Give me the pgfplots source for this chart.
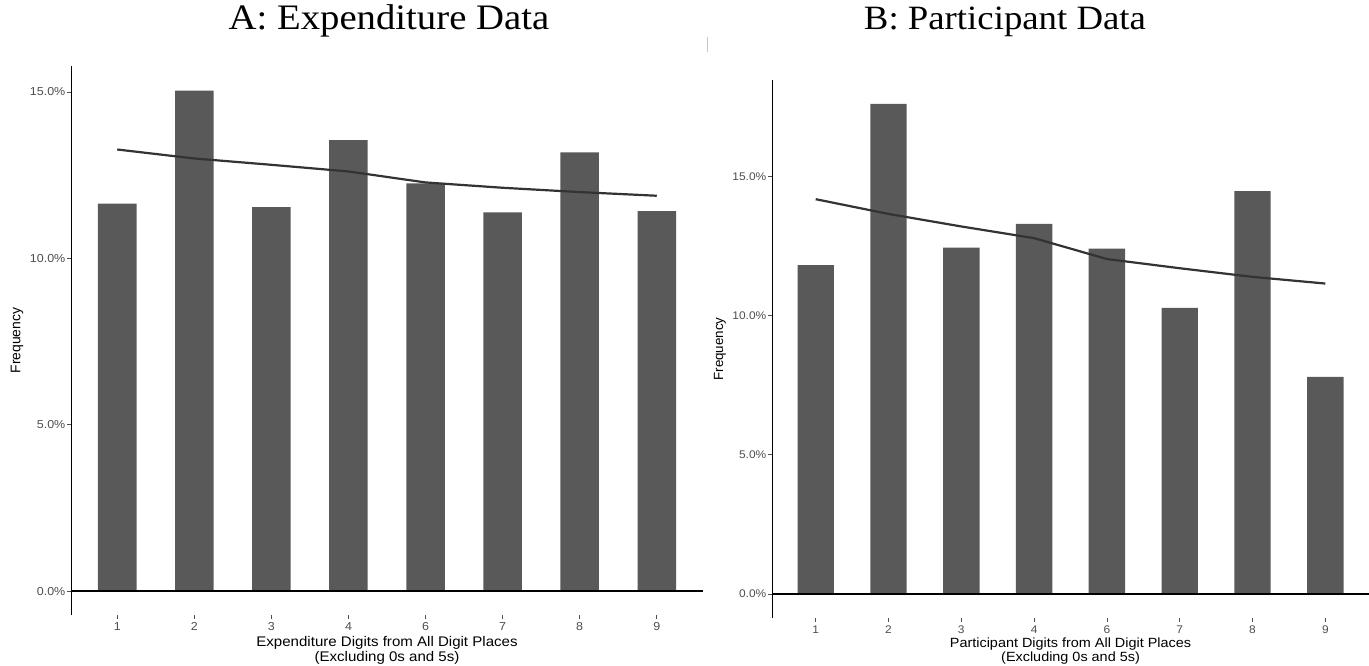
\documentclass[border=0pt]{standalone}
\usepackage{pgfplots}
\usepackage{pgfplotstable}
\pgfplotsset{compat=1.18}
\usepackage{fontspec}
\setmainfont{Liberation Sans}[FakeStretch=1.08]
\newfontfamily\ylabfont{Liberation Sans}
\newfontfamily\titlefont{Liberation Serif}[FakeStretch=1.08]
\definecolor{barcol}{HTML}{595959}
\definecolor{linecol}{HTML}{333333}
\definecolor{ticklab}{HTML}{4D4D4D}

\pgfplotstableread{
x bar line
0 11.64 13.27
1 15.04 13.00
2 11.54 12.81
3 13.55 12.61
4 12.25 12.28
5 11.38 12.12
6 13.18 11.99
7 11.42 11.88
}\expdata

\pgfplotstableread{
x bar line
0 11.81 14.18
1 17.60 13.65
2 12.44 13.20
3 13.29 12.78
4 12.40 12.03
5 10.28 11.70
6 14.47 11.39
7 7.80 11.15
}\partdata

\pgfplotsset{
  digitstyle/.style={
    scale only axis,
    axis x line*=bottom,
    axis y line*=left,
    x axis line style={draw=none},
    y axis line style={black, line width=0.9bp},
    xmin=-0.6, xmax=7.6,
    xtick={0,...,7},
    xticklabels={1,2,3,4,6,7,8,9},
    ytick={0,5,10,15},
    yticklabels={0.0\%,5.0\%,10.0\%,15.0\%},
    tick align=outside,
    major tick length=4bp,
    tick style={color=ticklab, line width=0.7bp},
    ticklabel style={text=ticklab},
    yticklabel style={inner sep=1.5bp},
    xticklabel style={inner sep=2bp, yshift=-1.5bp},
    xlabel style={align=center, at={(axis description cs:0.5,0)}, anchor=north},
    ylabel={Frequency},
    ylabel style={at={(axis description cs:0,0.5)}, anchor=center},
  }
}

\begin{document}
\begin{tikzpicture}[x=1bp,y=1bp]
\useasboundingbox (0,0) rectangle (1369,666);

\node[font=\titlefont\fontsize{36}{40}\selectfont, anchor=base] at (389,636) {A: Expenditure Data};
\node[font=\titlefont\fontsize{34.2}{38}\selectfont, anchor=base] at (1005,636) {B: Participant Data};
\draw[gray!45, line width=0.8bp] (707.5,629) -- (707.5,614);

\begin{axis}[digitstyle,
  at={(71bp,51bp)}, anchor=south west,
  width=632bp, height=549bp,
  ymin=-0.72, ymax=15.78,
  ticklabel style={font=\fontsize{11.6}{12}\selectfont},
  xlabel={Expenditure Digits from All Digit Places\\(Excluding 0s and 5s)},
  xlabel style={font=\fontsize{14}{14.5}\selectfont, yshift=-18bp},
  ylabel style={font=\ylabfont\fontsize{14}{14.5}\selectfont, yshift=54bp},
]
\addplot[ybar, bar width=0.5, fill=barcol, draw=none] table[x=x, y=bar] {\expdata};
\addplot[black, line width=1.3bp] coordinates {(-0.6,0) (7.6,0)};
\addplot[linecol, line width=2.2bp, mark=none] table[x=x, y=line] {\expdata};
\end{axis}

\begin{axis}[digitstyle,
  at={(772bp,48bp)}, anchor=south west,
  width=597bp, height=538bp,
  ymin=-0.86, ymax=18.46,
  ticklabel style={font=\fontsize{11.1}{11.5}\selectfont},
  xlabel={Participant Digits from All Digit Places\\(Excluding 0s and 5s)},
  xlabel style={font=\fontsize{13.4}{13.9}\selectfont, yshift=-16bp},
  ylabel style={font=\ylabfont\fontsize{13.4}{13.9}\selectfont, yshift=52bp},
]
\addplot[ybar, bar width=0.5, fill=barcol, draw=none] table[x=x, y=bar] {\partdata};
\addplot[black, line width=1.3bp] coordinates {(-0.6,0) (7.6,0)};
\addplot[linecol, line width=2.2bp, mark=none] table[x=x, y=line] {\partdata};
\end{axis}
\end{tikzpicture}
\end{document}
